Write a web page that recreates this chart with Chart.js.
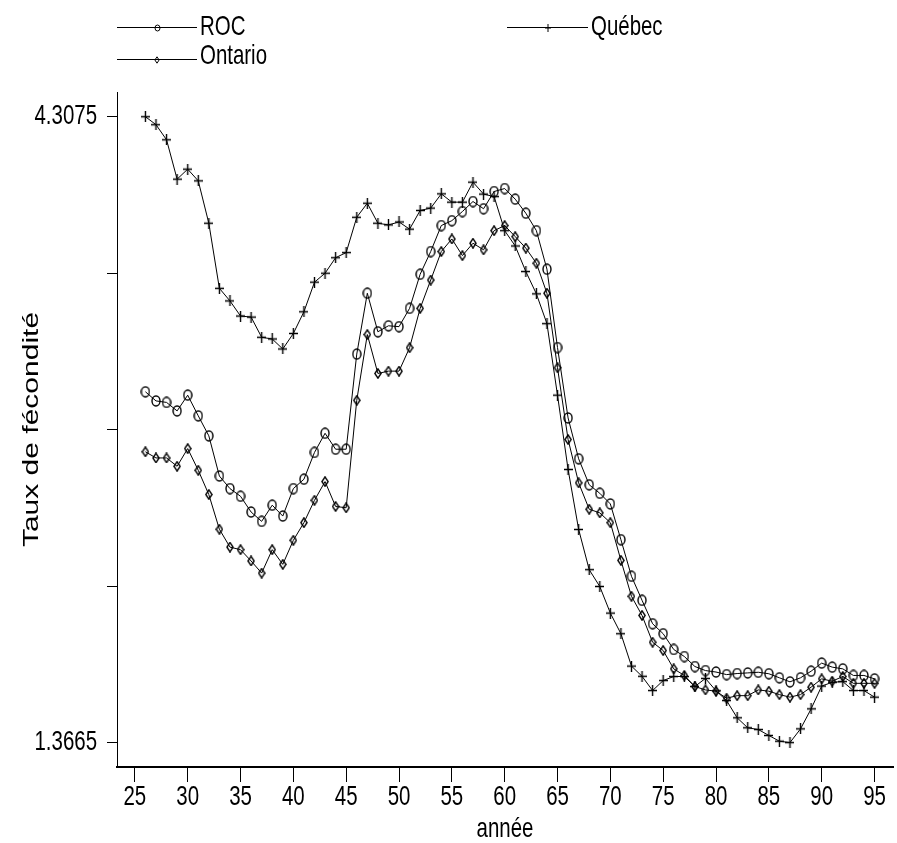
<!DOCTYPE html>
<html><head><meta charset="utf-8">
<script src="https://cdn.jsdelivr.net/npm/chart.js@4.4.1/dist/chart.umd.min.js"></script>
<style>html,body{margin:0;padding:0;background:#fff;} canvas{display:block;}</style>
</head><body>
<canvas id="c" width="897" height="843"></canvas>
<script>
// ---- data ----
const years = [26,27,28,29,30,31,32,33,34,35,36,37,38,39,40,41,42,43,44,45,
  46,47,48,49,50,51,52,53,54,55,56,57,58,59,60,61,62,63,64,65,
  66,67,68,69,70,71,72,73,74,75,76,77,78,79,80,81,82,83,84,85,
  86,87,88,89,90,91,92,93,94,95];
const roc = [3.015,2.972,2.965,2.925,2.999,2.902,2.808,2.619,2.560,2.524,
  2.450,2.406,2.482,2.431,2.560,2.604,2.730,2.820,2.745,2.745,
  3.192,3.478,3.297,3.325,3.321,3.407,3.567,3.674,3.796,3.819,
  3.862,3.909,3.875,3.956,3.970,3.920,3.854,3.772,3.591,3.223,
  2.892,2.700,2.578,2.538,2.488,2.320,2.148,2.035,1.925,1.878,
  1.804,1.771,1.724,1.705,1.698,1.686,1.691,1.694,1.697,1.690,
  1.671,1.652,1.671,1.702,1.740,1.721,1.713,1.682,1.682,1.666];
const quebec = [4.3075,4.270,4.199,4.014,4.061,4.006,3.807,3.501,3.442,3.371,
  3.366,3.271,3.263,3.216,3.289,3.391,3.530,3.572,3.645,3.669,
  3.835,3.901,3.807,3.799,3.813,3.779,3.867,3.878,3.945,3.906,
  3.906,4.000,3.944,3.932,3.772,3.700,3.580,3.475,3.335,2.999,
  2.650,2.368,2.179,2.100,1.975,1.878,1.726,1.678,1.611,1.658,
  1.677,1.677,1.630,1.668,1.610,1.564,1.483,1.436,1.428,1.400,
  1.373,1.3665,1.431,1.525,1.632,1.650,1.653,1.611,1.611,1.580];
const ontario = [2.733,2.704,2.704,2.665,2.748,2.646,2.532,2.369,2.285,2.273,
  2.220,2.163,2.273,2.204,2.317,2.400,2.505,2.593,2.476,2.470,
  2.975,3.284,3.101,3.112,3.112,3.222,3.407,3.540,3.674,3.733,
  3.655,3.713,3.682,3.772,3.796,3.744,3.690,3.619,3.478,3.128,
  2.791,2.587,2.463,2.446,2.400,2.223,2.054,1.964,1.838,1.799,
  1.713,1.682,1.630,1.614,1.608,1.575,1.587,1.587,1.614,1.608,
  1.592,1.580,1.592,1.627,1.666,1.655,1.677,1.645,1.645,1.645];
const seriesNames = ['ROC', 'Québec', 'Ontario'];
const xTickValues = [25,30,35,40,45,50,55,60,65,70,75,80,85,90,95];
const yTickValues = [1.3665, 2.10175, 2.837, 3.57225, 4.3075];
const yTickLabels = ['1.3665', '', '', '', '4.3075'];
const xTitle = 'année';
const yTitle = 'Taux de fécondité';

// ---- styling ----
const FONT = "'Liberation Sans',Arial,sans-serif";
const SX = 0.73; // condensed text look of the reference

const canvas = document.getElementById('c');
const ctx0 = canvas.getContext('2d');
(function patch(ctx) {
  const orig = ctx.fillText.bind(ctx);
  ctx.fillText = function (text, x, y, maxWidth) {
    const t = ctx.getTransform();
    const rotated = Math.abs(t.b) > 1e-6 || Math.abs(t.c) > 1e-6;
    ctx.save();
    ctx.translate(x, y);
    if (rotated) ctx.scale(1, SX); else ctx.scale(SX, 1);
    if (maxWidth !== undefined && maxWidth !== null && isFinite(maxWidth)) {
      orig(text, 0, 0, rotated ? maxWidth : maxWidth / SX);
    } else {
      orig(text, 0, 0);
    }
    ctx.restore();
  };
})(ctx0);

function makeMarker(kind, scale) {
  const s = scale || 1;
  const c = document.createElement('canvas');
  let w, h;
  if (kind === 'circle') { w = 10; h = 12; }
  else if (kind === 'diamond') { w = 8; h = 11; }
  else { w = 9; h = 11; }
  w = Math.round(w * s); h = Math.round(h * s);
  c.width = w; c.height = h;
  const g = c.getContext('2d');
  g.strokeStyle = '#000'; g.lineWidth = s < 1 ? 1 : 1.4;
  const cx = w / 2, cy = h / 2;
  g.beginPath();
  if (kind === 'circle') {
    g.ellipse(cx, cy, w / 2 - 1, h / 2 - 1, 0, 0, Math.PI * 2);
  } else if (kind === 'diamond') {
    g.moveTo(cx, 0.8); g.lineTo(w - 0.9, cy); g.lineTo(cx, h - 0.8); g.lineTo(0.9, cy); g.closePath();
  } else {
    g.moveTo(0, cy); g.lineTo(w, cy); g.moveTo(cx, 0); g.lineTo(cx, h);
  }
  g.stroke();
  return c;
}
const markers = [makeMarker('circle'), makeMarker('cross'), makeMarker('diamond')];
const legendMarkers = [makeMarker('circle', 0.7), makeMarker('cross', 0.7), makeMarker('diamond', 0.7)];

const seriesValues = [roc, quebec, ontario];
const datasets = seriesNames.map((name, i) => ({
  label: name,
  data: years.map((yr, j) => ({ x: yr, y: seriesValues[i][j] })),
  borderColor: '#000',
  borderWidth: 1,
  pointStyle: markers[i],
  pointRadius: 3,
  pointHoverRadius: 3,
  fill: false,
  tension: 0
}));

const legendPlugin = {
  id: 'customLegend',
  afterDraw(chart) {
    const ctx = chart.ctx;
    const items = [
      { i: 0, x1: 117, x2: 197, y: 27, ty: 27 },
      { i: 1, x1: 507, x2: 588, y: 27, ty: 27 },
      { i: 2, x1: 117, x2: 197, y: 59, ty: 56 }
    ];
    ctx.save();
    items.forEach(it => {
      ctx.strokeStyle = '#000'; ctx.lineWidth = 1;
      ctx.beginPath(); ctx.moveTo(it.x1, it.y + 0.5); ctx.lineTo(it.x2, it.y + 0.5); ctx.stroke();
      const m = legendMarkers[it.i];
      const cx = (it.x1 + it.x2) / 2;
      ctx.drawImage(m, Math.round(cx - m.width / 2), Math.round(it.y + 0.5 - m.height / 2));
      ctx.fillStyle = '#000';
      ctx.font = "28px " + FONT;
      ctx.textBaseline = 'middle'; ctx.textAlign = 'left';
      ctx.fillText(seriesNames[it.i], it.x2 + 3, it.ty);
    });
    ctx.restore();
  }
};

new Chart(canvas, {
  type: 'line',
  data: { datasets },
  plugins: [legendPlugin],
  options: {
    responsive: false,
    devicePixelRatio: 1,
    animation: false,
    events: [],
    layout: { padding: { top: 92, right: 0, left: 0, bottom: 0 } },
    plugins: { legend: { display: false }, tooltip: { enabled: false } },
    scales: {
      x: {
        type: 'linear',
        min: 23.31, max: 96.75,
        afterBuildTicks: s => { s.ticks = xTickValues.map(v => ({ value: v })); },
        afterFit: s => { s.height = 76; },
        grid: { drawOnChartArea: false, drawTicks: true, tickLength: 15, color: '#000', lineWidth: 1 },
        border: { display: true, color: '#000', width: 2 },
        ticks: { color: '#000', padding: 0, maxRotation: 0, autoSkip: false,
          font: { family: FONT, size: 28, lineHeight: 1.1 },
          callback: (v) => String(v) },
        title: { display: true, text: xTitle, color: '#000',
          font: { family: FONT, size: 28, lineHeight: 1 }, padding: { top: 0, bottom: 0 } }
      },
      y: {
        type: 'linear',
        min: 1.2518, max: 4.4236,
        afterBuildTicks: s => { s.ticks = yTickValues.map(v => ({ value: v })); },
        afterFit: s => { s.width = 117; },
        grid: { drawOnChartArea: false, drawTicks: true, tickLength: 10, color: '#000', lineWidth: 1 },
        border: { display: true, color: '#000', width: 1 },
        ticks: { color: '#000', padding: 10, autoSkip: false,
          font: { family: FONT, size: 28 },
          callback: (v, idx) => yTickLabels[idx] },
        title: { display: true, text: yTitle, color: '#000',
          font: { family: FONT, size: 30, lineHeight: 1.2 }, padding: { top: 14, bottom: 0 } }
      }
    }
  }
});
</script>
</body></html>
